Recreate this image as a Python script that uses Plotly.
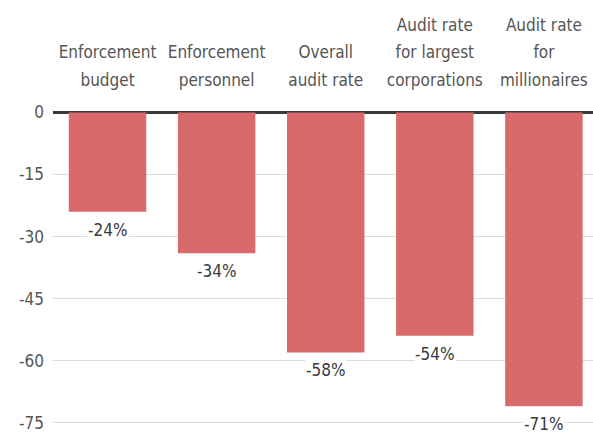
import plotly.graph_objects as go

# Percent change by measure
categories = [
    "Enforcement<br>budget",
    "Enforcement<br>personnel",
    "Overall<br>audit rate",
    "Audit rate<br>for largest<br>corporations",
    "Audit rate<br>for<br>millionaires",
]
values = [-24, -34, -58, -54, -71]
value_labels = ["-24%", "-34%", "-58%", "-54%", "-71%"]
y_ticks = [0, -15, -30, -45, -60, -75]

FONT = "DejaVu Sans Condensed, Liberation Sans Narrow, sans-serif"
BAR_COLOR = "#d96a6c"


def spaced_label(text, px=17):
    # smaller glyphs inside a larger base font so the lines sit further apart
    return "<br>".join(
        f"<span style='font-size:{px}px'>{part}</span>" for part in text.split("<br>")
    )


fig = go.Figure(
    go.Bar(
        x=list(range(len(categories))),
        y=values,
        marker=dict(color=BAR_COLOR, line=dict(width=0)),
        width=0.71,
        hoverinfo="skip",
    )
)

# Value labels beneath each bar, on a white backing so gridlines break around them
for i, (v, lab) in enumerate(zip(values, value_labels)):
    fig.add_annotation(
        x=i, y=v, text=lab, showarrow=False,
        yanchor="middle", yshift=-18,
        font=dict(family=FONT, size=17, color="#3a3a3a"),
        bgcolor="white", borderpad=0,
    )

fig.update_layout(
    width=593,
    height=439,
    margin=dict(l=53, r=0, t=110, b=8, autoexpand=False),
    paper_bgcolor="white",
    plot_bgcolor="white",
    showlegend=False,
    font=dict(family=FONT, size=17, color="#555555"),
    xaxis=dict(
        side="top",
        range=[-0.5, 4.45],
        tickmode="array",
        tickvals=list(range(len(categories))),
        ticktext=[spaced_label(c) for c in categories],
        tickangle=0,
        automargin=False,
        showgrid=False,
        zeroline=False,
        showline=False,
        ticks="",
        ticklabelstandoff=19,
        tickfont=dict(family=FONT, size=21, color="#555555"),
        fixedrange=True,
    ),
    yaxis=dict(
        range=[-77, 0.6],
        tickmode="array",
        tickvals=y_ticks,
        ticktext=[str(t) for t in y_ticks],
        automargin=False,
        showgrid=True,
        gridcolor="#dcdcdc",
        gridwidth=1,
        zeroline=True,
        zerolinecolor="#3a3a3a",
        zerolinewidth=3,
        showline=False,
        ticks="",
        ticklabelstandoff=8,
        tickfont=dict(family=FONT, size=17, color="#555555"),
        fixedrange=True,
    ),
)

fig.write_html("out.html")
